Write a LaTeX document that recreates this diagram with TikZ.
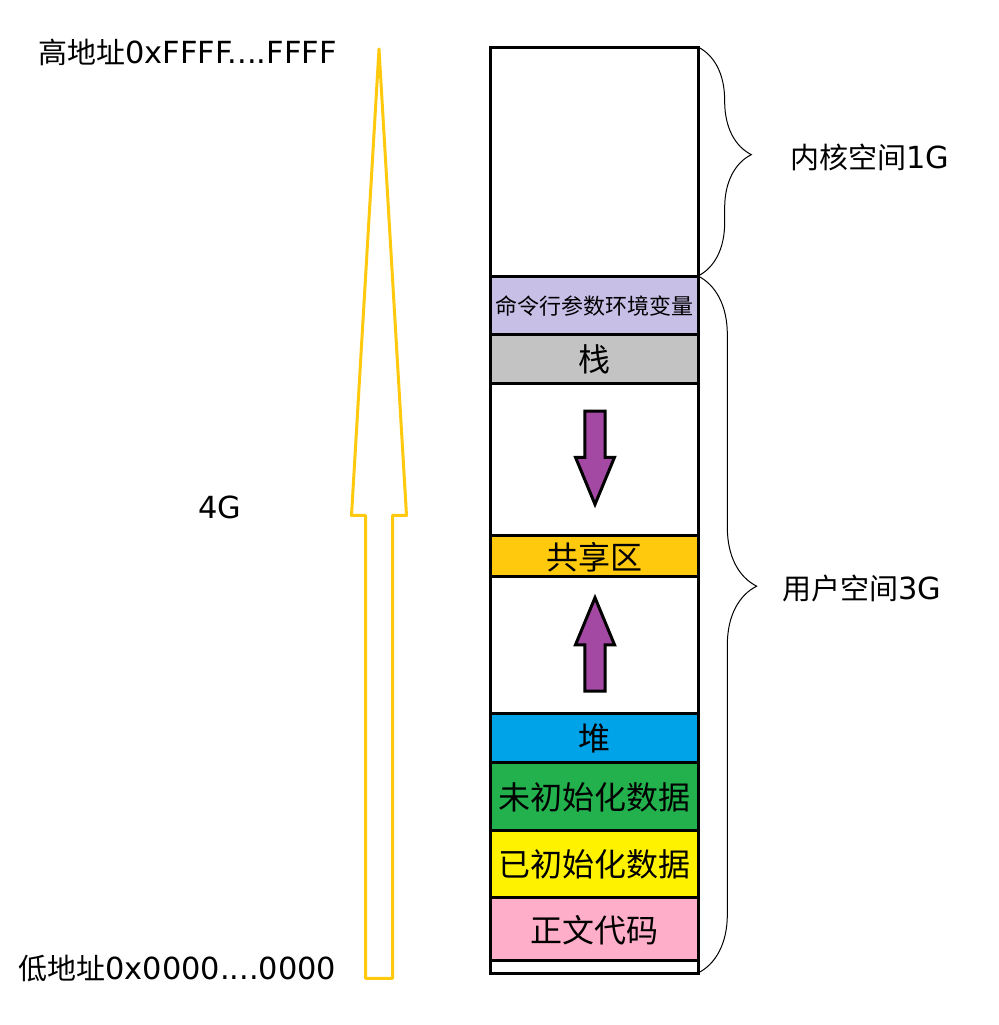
\documentclass[tikz,border=0pt]{standalone}
\usepackage{fontspec}
\setmainfont{Noto Sans CJK SC}
\newfontfamily\latn{DejaVu Sans}[Scale=1.05]
\usepackage{xcolor}
\usetikzlibrary{positioning,shapes.arrows,decorations.pathreplacing}
\definecolor{argcol}{HTML}{C8BFE7}
\definecolor{stackcol}{HTML}{C3C3C3}
\definecolor{sharecol}{HTML}{FFC90E}
\definecolor{heapcol}{HTML}{00A2E8}
\definecolor{bsscol}{HTML}{22B14C}
\definecolor{datacol}{HTML}{FFF200}
\definecolor{textcol}{HTML}{FFAEC9}
\definecolor{growcol}{HTML}{A349A4}
\definecolor{addrcol}{HTML}{FFC90E}

\begin{document}
\begin{tikzpicture}[
  x=0.75pt,y=-0.75pt,
  seg/.style   ={draw=black,line width=2.25pt,inner sep=0pt,outer sep=0pt,
                 minimum width=156pt,text depth=0pt,
                 font=\fontsize{24pt}{26pt}\selectfont},
  lbl/.style   ={inner sep=0pt,font=\fontsize{21.75pt}{24pt}\selectfont},
  growarr/.style={single arrow,draw=black,line width=2.25pt,fill=growcol,
                 single arrow tip angle=45,single arrow head extend=7pt,
                 inner sep=6.5pt,outer sep=0pt,minimum height=70pt},
  addrarr/.style={single arrow,draw=addrcol,line width=2.25pt,line join=round,
                 single arrow tip angle=6.75,single arrow head extend=10.5pt,
                 inner sep=9pt,outer sep=0pt,minimum height=697pt},
  brc/.style   ={decorate,draw=black,line width=0.75pt},
]
\useasboundingbox (0,0) rectangle (999,1025);

% ===================== address arrow (low -> high) =======================
\node[addrarr,rotate=90,anchor=tip] (span) at (379,49) {};

\node[lbl,anchor=west] (hiaddr) at (38,52)  {高地址{\latn 0xFFFF....FFFF}};
\node[lbl,anchor=west] (loaddr) at (18,969) {低地址{\latn 0x0000....0000}};
\node[lbl] (total) at (220,507) {\latn 4G};

% ===================== process memory column =============================
\node[seg,minimum height=694.5pt] (mem) at (594,510) {};
\node[seg,minimum height=171.75pt] (kernel) at (594,161.5) {};

\node[seg,fill=argcol,minimum height=43.5pt,
      font=\fontsize{16.5pt}{18pt}\selectfont] (args) at (594,305)
  {命令行参数环境变量};
\node[seg,fill=stackcol,minimum height=36.75pt] (stack) at (594,358.5) {栈};
\node[seg,fill=sharecol,minimum height=30.75pt] (share) at (594,555.5) {共享区};
\node[seg,fill=heapcol,minimum height=36.75pt]  (heap)  at (594,737.5) {堆};
\node[seg,fill=bsscol,minimum height=51pt]      (bss)   at (594,796)   {未初始化数据};
\node[seg,fill=datacol,minimum height=50.25pt]  (data)  at (594,863.5) {已初始化数据};
\node[seg,fill=textcol,minimum height=47.25pt]  (code)  at (594,928.5) {正文代码};

% stack grows down, heap grows up
\node[growarr,rotate=-90,anchor=tail] (stackdir) at (595,411) {};
\node[growarr,rotate=90,anchor=tail]  (heapdir)  at (595,691) {};

% ===================== kernel / user split ===============================
\draw[brc,decoration={brace,amplitude=40pt,aspect=0.47}]
  (kernel.north east) -- (kernel.south east);
\draw[brc,decoration={brace,amplitude=44pt,aspect=0.445}]
  (args.north east) -- (mem.south east);

\node[lbl,anchor=west] (klbl) at (790,157) {内核空间{\latn 1G}};
\node[lbl,anchor=west] (ulbl) at (782,588) {用户空间{\latn 3G}};

\end{tikzpicture}
\end{document}
